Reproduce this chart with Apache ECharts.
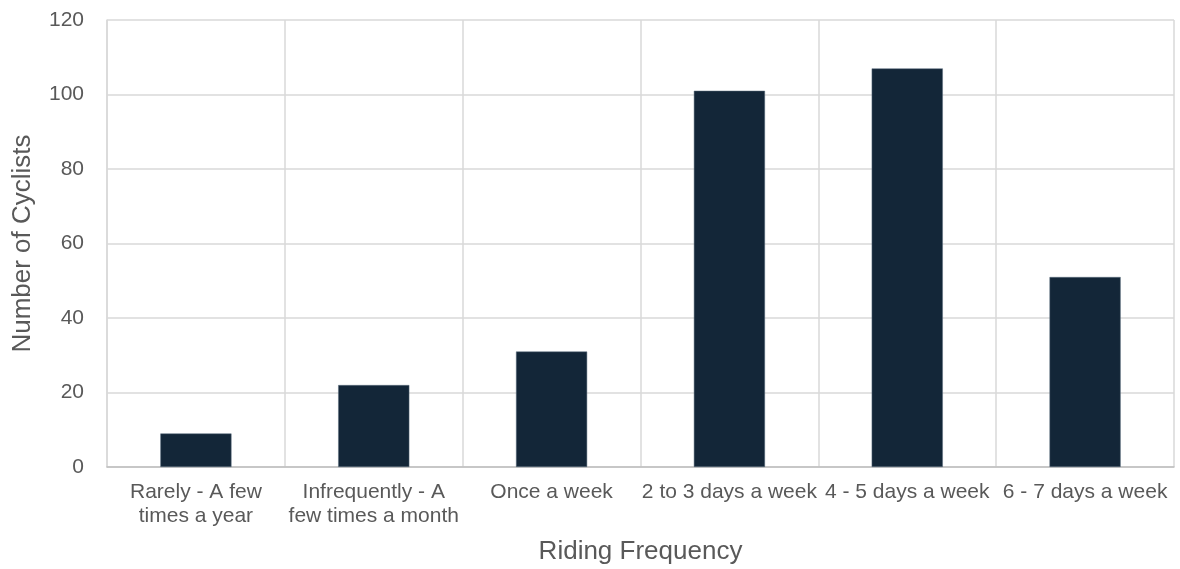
<!DOCTYPE html>
<html>
<head>
<meta charset="utf-8">
<script src="https://cdn.jsdelivr.net/npm/echarts@6/dist/echarts.min.js"></script>
<style>
html,body{margin:0;padding:0;background:#fff;}
#chart{width:1180px;height:569px;}
</style>
</head>
<body>
<div id="chart"></div>
<script>
const categories = [
  "Rarely - A few\ntimes a year",
  "Infrequently - A\nfew times a month",
  "Once a week",
  "2 to 3 days a week",
  "4 - 5 days a week",
  "6 - 7 days a week"
];
const cyclists = [9, 22, 31, 101, 107, 51];
const xTitle = "Riding Frequency";
const yTitle = "Number of Cyclists";

const chart = echarts.init(document.getElementById('chart'), null, {renderer: 'canvas'});
const font = "'Liberation Sans', Arial, sans-serif";
chart.setOption({
  animation: false,
  grid: {left: 107, right: 6, top: 20, bottom: 102, containLabel: false, outerBoundsMode: 'none'},
  xAxis: {
    type: 'category',
    data: categories,
    name: xTitle,
    nameLocation: 'middle',
    nameGap: 72,
    nameTextStyle: {fontFamily: font, fontSize: 26, color: '#595959'},
    axisLine: {show: true, lineStyle: {color: '#bfbfbf', width: 1.5}},
    axisTick: {show: false},
    splitLine: {show: true, lineStyle: {color: '#d9d9d9', width: 1.5}},
    axisLabel: {fontFamily: font, fontSize: 21, color: '#595959', margin: 13, lineHeight: 24, interval: 0, hideOverlap: false}
  },
  yAxis: {
    type: 'value',
    min: 0, max: 120, interval: 20,
    name: yTitle,
    nameLocation: 'middle',
    nameGap: 71,
    nameTextStyle: {fontFamily: font, fontSize: 26, color: '#595959'},
    axisLine: {show: true, lineStyle: {color: '#d9d9d9', width: 1.5}},
    axisTick: {show: false},
    splitLine: {show: true, lineStyle: {color: '#d9d9d9', width: 1.5}},
    axisLabel: {fontFamily: font, fontSize: 21, color: '#595959', margin: 23}
  },
  series: [{
    type: 'bar',
    data: cyclists,
    barWidth: '40%',
    itemStyle: {color: '#132638', borderColor: '#5d6f7e', borderWidth: 0.5}
  }]
});
</script>
</body>
</html>
